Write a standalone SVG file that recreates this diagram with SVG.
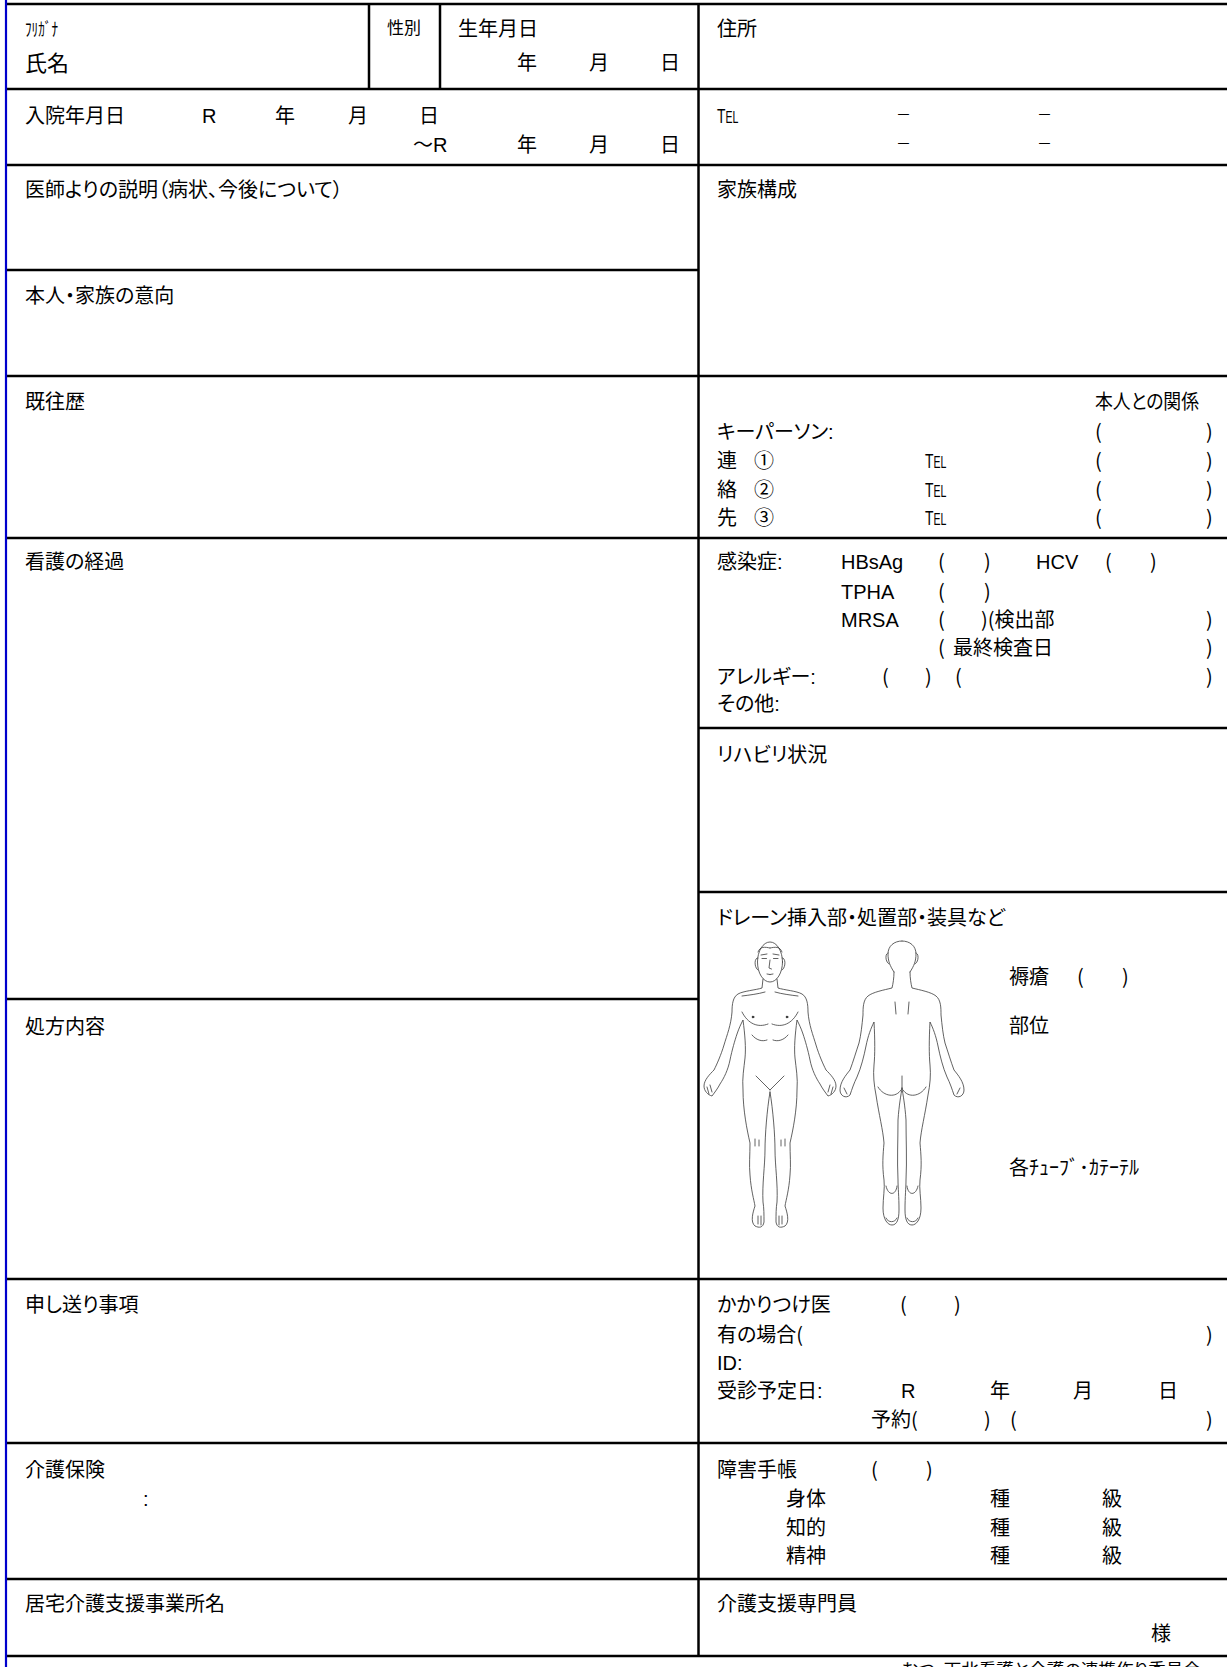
<svg xmlns="http://www.w3.org/2000/svg" xmlns:xlink="http://www.w3.org/1999/xlink" width="1227" height="1667" viewBox="0 0 1227 1667">
<style>
.t{font-family:"Liberation Sans","Noto Sans CJK JP",sans-serif;font-size:20px;fill:#000;font-feature-settings:"palt" 1;}
.p{font-family:"Noto Sans CJK JP",sans-serif;}
.big{font-size:22px;}
.sm{font-size:18px;}
.sx{font-size:17px;}
.ft{font-size:17.5px;}
.ds{font-family:"Noto Sans CJK JP",sans-serif;font-size:15px;}
.g{stroke:#000;stroke-width:2.5;fill:none;}
.fig{stroke:#3a3a3a;stroke-width:0.8;fill:none;stroke-linecap:round;stroke-linejoin:round;}
</style>
<defs>
<path id="fh" d="M -7,979 L -8,988 C -14,990 -27,991 -32,994 C -37,997 -38,1004 -38,1012 C -39,1025 -43,1035 -46,1045 C -49,1055 -53,1064 -56,1070 C -60,1074 -66,1080 -66,1086 C -66,1091 -62,1095 -58,1096 C -55,1092 -52,1088 -50,1084 C -46,1078 -42,1070 -40,1060 C -38,1050 -35,1040 -33,1034 C -31,1028 -29,1024 -27,1020 C -25,1035 -24,1048 -25,1058 C -26,1068 -28,1078 -27,1090 C -27,1110 -23,1130 -20,1143 C -20,1155 -21,1165 -20,1175 C -19,1190 -16,1200 -15,1206 C -17,1212 -20,1222 -15,1226 C -11,1228 -7,1228 -6,1222 C -6,1215 -6,1208 -7,1202 C -8,1185 -5,1165 -5,1150 C -5,1135 -3,1110 0,1092 M -63,1087 L -61,1094 M -60,1085 L -58,1092 M -5,992 C -12,994 -20,995 -28,996 M -28,1012 C -22,1024 -12,1028 -2,1024 M -18,1035 C -14,1040 -8,1042 -3,1040 M -14,1076 L 0,1090 M -15,1139 L -15,1146 M -11,1140 L -11,1146 M -12,1216 L -12,1224 M -9,1216 L -9,1225 M -12,958 C -16,957 -16,968 -12,970 M -9,955 L -3,954 M -8,958.5 L -3.5,958.5 M -12,952 C -10,946 -5,947 0,948 M -3,974 L 0,974.5"/>
<path id="bh" d="M -8,972 C -8,978 -9,984 -10,988 C -18,990 -29,992 -34,996 C -39,1000 -39,1008 -39,1015 C -40,1025 -41,1035 -43,1043 C -46,1052 -49,1062 -52,1070 C -56,1075 -62,1082 -62,1090 C -62,1096 -56,1099 -52,1095 C -50,1089 -48,1083 -45,1077 C -41,1068 -38,1056 -36,1046 C -34,1036 -31,1028 -28,1022 C -27,1040 -27,1055 -28,1065 C -29,1075 -28,1085 -26,1095 C -23,1115 -19,1130 -18,1143 C -19,1155 -20,1165 -18,1180 C -17,1188 -19,1198 -19,1208 C -19,1220 -14,1225 -10,1225 C -5,1225 -3,1219 -3,1210 C -3,1196 -4,1188 -4,1180 C -5,1160 -4,1140 -4,1120 C -3,1105 -1,1095 0,1088 M -8,972 C -12,966 -14,961 -14,954 C -14,946 -8,941 0,941 M -14,953 C -17,953 -17,962 -13,964 M -7,1002 L -6,1014 M -24,1087 C -18,1097 -6,1098 -1,1090 M -16,1186 C -14,1196 -6,1196 -5,1186 M -16,1218 C -14,1223 -7,1223 -5,1218 M -58,1088 L -55,1094"/>
</defs>
<rect x="0" y="0" width="1227" height="1667" fill="#fff"/>

<g id="connectors">
<line class="g" x1="6" y1="4" x2="1227" y2="4"/>
<line class="g" x1="6" y1="89" x2="1227" y2="89"/>
<line class="g" x1="6" y1="165" x2="1227" y2="165"/>
<line class="g" x1="6" y1="270" x2="698.5" y2="270"/>
<line class="g" x1="6" y1="376" x2="1227" y2="376"/>
<line class="g" x1="6" y1="538" x2="1227" y2="538"/>
<line class="g" x1="698.5" y1="728" x2="1227" y2="728"/>
<line class="g" x1="698.5" y1="892" x2="1227" y2="892"/>
<line class="g" x1="6" y1="999" x2="698.5" y2="999"/>
<line class="g" x1="6" y1="1279" x2="1227" y2="1279"/>
<line class="g" x1="6" y1="1443" x2="1227" y2="1443"/>
<line class="g" x1="6" y1="1579" x2="1227" y2="1579"/>
<line class="g" x1="6" y1="1656" x2="1227" y2="1656"/>
<line class="g" x1="369" y1="4" x2="369" y2="89"/>
<line class="g" x1="440" y1="4" x2="440" y2="89"/>
<line class="g" x1="698.5" y1="4" x2="698.5" y2="1656"/>
<line x1="6" y1="0" x2="6" y2="1667" stroke="#0000cc" stroke-width="2.2"/>
</g>

<g id="cell-name">
<text class="t sm" x="25" y="36" textLength="33" lengthAdjust="spacingAndGlyphs">ﾌﾘｶﾞﾅ</text>
<text class="t big" x="25" y="71">氏名</text>
</g>
<g id="cell-sex">
<text class="t sx" x="387" y="34">性別</text>
</g>
<g id="cell-birth">
<text class="t" x="458" y="36">生年月日</text>
<text class="t" x="517" y="70">年</text>
<text class="t" x="589" y="70">月</text>
<text class="t" x="660" y="70">日</text>
</g>
<g id="cell-address">
<text class="t" x="717" y="36">住所</text>
</g>
<g id="cell-admission">
<text class="t" x="25" y="123">入院年月日</text>
<text class="t" x="202" y="123">R</text>
<text class="t" x="275" y="123">年</text>
<text class="t" x="348" y="123">月</text>
<text class="t" x="419" y="123">日</text>
<text class="t" x="413" y="152">～R</text>
<text class="t" x="517" y="152">年</text>
<text class="t" x="589" y="152">月</text>
<text class="t" x="660" y="152">日</text>
</g>
<g id="cell-tel">
<text class="t" transform="translate(717,123) scale(0.66,1)"><tspan font-size="21">T</tspan><tspan font-size="16">EL</tspan></text>
<text class="ds" x="896" y="119.5">－</text>
<text class="ds" x="1037" y="119.5">－</text>
<text class="ds" x="896" y="148.5">－</text>
<text class="ds" x="1037" y="148.5">－</text>
</g>
<g id="cell-doctor">
<text class="t" x="25" y="197">医師よりの説明（病状、今後について）</text>
</g>
<g id="cell-family">
<text class="t" x="717" y="197">家族構成</text>
</g>
<g id="cell-wishes">
<text class="t" x="25" y="303">本人・家族の意向</text>
</g>
<g id="cell-history">
<text class="t" x="25" y="409">既往歴</text>
</g>
<g id="cell-keyperson">
<text class="t" x="1095" y="409" textLength="104" lengthAdjust="spacingAndGlyphs">本人との関係</text>
<text class="t" x="717" y="439">キーパーソン:</text>
<text class="t p" x="1095" y="439">(</text><text class="t p" x="1206" y="439">)</text>
<text class="t" x="717" y="468">連</text><text class="t" x="754" y="468">①</text>
<text class="t" transform="translate(925,468) scale(0.66,1)"><tspan font-size="21">T</tspan><tspan font-size="16">EL</tspan></text>
<text class="t p" x="1095" y="468">(</text><text class="t p" x="1206" y="468">)</text>
<text class="t" x="717" y="496.5">絡</text><text class="t" x="754" y="496.5">②</text>
<text class="t" transform="translate(925,496.5) scale(0.66,1)"><tspan font-size="21">T</tspan><tspan font-size="16">EL</tspan></text>
<text class="t p" x="1095" y="496.5">(</text><text class="t p" x="1206" y="496.5">)</text>
<text class="t" x="717" y="525">先</text><text class="t" x="754" y="525">③</text>
<text class="t" transform="translate(925,525) scale(0.66,1)"><tspan font-size="21">T</tspan><tspan font-size="16">EL</tspan></text>
<text class="t p" x="1095" y="525">(</text><text class="t p" x="1206" y="525">)</text>
</g>
<g id="cell-nursing">
<text class="t" x="25" y="569">看護の経過</text>
</g>
<g id="cell-infection">
<text class="t" x="717" y="569">感染症:</text>
<text class="t" x="841" y="569">HBsAg</text>
<text class="t p" x="938" y="569">(</text><text class="t p" x="984" y="569">)</text>
<text class="t" x="1036" y="569">HCV</text>
<text class="t p" x="1105" y="569">(</text><text class="t p" x="1150" y="569">)</text>
<text class="t" x="841" y="598.5">TPHA</text>
<text class="t p" x="938" y="598.5">(</text><text class="t p" x="984" y="598.5">)</text>
<text class="t" x="841" y="627">MRSA</text>
<text class="t p" x="938" y="627">(</text><text class="t p" x="981" y="627">)(検出部</text><text class="t p" x="1206" y="627">)</text>
<text class="t p" x="938" y="655">(</text><text class="t" x="953" y="655">最終検査日</text><text class="t p" x="1206" y="655">)</text>
<text class="t" x="717" y="684">アレルギー:</text>
<text class="t p" x="882" y="684">(</text><text class="t p" x="925" y="684">)</text>
<text class="t p" x="955" y="684">(</text><text class="t p" x="1206" y="684">)</text>
<text class="t" x="717" y="711">その他:</text>
</g>
<g id="cell-rehab">
<text class="t" x="717" y="762">リハビリ状況</text>
</g>
<g id="cell-drain">
<text class="t" x="717" y="925">ドレーン挿入部・処置部・装具など</text>
<g id="figure-front" class="fig">
<use xlink:href="#fh" href="#fh" transform="translate(770,0)"/>
<use xlink:href="#fh" href="#fh" transform="translate(770,0) scale(-1,1)"/>
<ellipse cx="770" cy="962" rx="12.5" ry="20"/>
<path d="M770,960 L769,968 L771.5,969"/>
<circle cx="753" cy="1017" r="0.9" fill="#000"/>
<circle cx="787" cy="1017" r="0.9" fill="#000"/>
</g>
<g id="figure-back" class="fig">
<use xlink:href="#bh" href="#bh" transform="translate(902,0)"/>
<use xlink:href="#bh" href="#bh" transform="translate(902,0) scale(-1,1)"/>
<path d="M902,1076 L902,1089"/>
</g>
<text class="t" x="1009" y="983.5">褥瘡</text>
<text class="t p" x="1077" y="983.5">(</text><text class="t p" x="1122" y="983.5">)</text>
<text class="t" x="1009" y="1032.5">部位</text>
<text class="t" x="1009" y="1175">各ﾁｭｰﾌﾞ･ｶﾃｰﾃﾙ</text>
</g>
<g id="cell-prescription">
<text class="t" x="25" y="1033.5">処方内容</text>
</g>
<g id="cell-handover">
<text class="t" x="25" y="1312">申し送り事項</text>
</g>
<g id="cell-physician">
<text class="t" x="717" y="1312">かかりつけ医</text>
<text class="t p" x="900" y="1312">(</text><text class="t p" x="954" y="1312">)</text>
<text class="t" x="717" y="1342">有の場合<tspan class="p">(</tspan></text><text class="t p" x="1206" y="1342">)</text>
<text class="t" x="717" y="1369.5">ID:</text>
<text class="t" x="717" y="1398">受診予定日:</text>
<text class="t" x="901" y="1398">R</text>
<text class="t" x="990" y="1398">年</text>
<text class="t" x="1073" y="1398">月</text>
<text class="t" x="1158" y="1398">日</text>
<text class="t" x="871" y="1427">予約<tspan class="p">(</tspan></text><text class="t p" x="984" y="1427">)</text>
<text class="t p" x="1010" y="1427">(</text><text class="t p" x="1206" y="1427">)</text>
</g>
<g id="cell-insurance">
<text class="t" x="25" y="1477">介護保険</text>
<text class="t" x="143" y="1506">:</text>
</g>
<g id="cell-disability">
<text class="t" x="717" y="1477">障害手帳</text>
<text class="t p" x="871" y="1477">(</text><text class="t p" x="926" y="1477">)</text>
<text class="t" x="786" y="1505.5">身体</text><text class="t" x="990" y="1505.5">種</text><text class="t" x="1102" y="1505.5">級</text>
<text class="t" x="786" y="1534.5">知的</text><text class="t" x="990" y="1534.5">種</text><text class="t" x="1102" y="1534.5">級</text>
<text class="t" x="786" y="1563">精神</text><text class="t" x="990" y="1563">種</text><text class="t" x="1102" y="1563">級</text>
</g>
<g id="cell-office">
<text class="t" x="25" y="1611">居宅介護支援事業所名</text>
</g>
<g id="cell-caremanager">
<text class="t" x="717" y="1611">介護支援専門員</text>
<text class="t" x="1151" y="1640.5">様</text>
</g>
<g id="footer">
<text class="t ft" x="902" y="1675.5">むつ・下北看護と介護の連携作り委員会</text>
</g>
</svg>
